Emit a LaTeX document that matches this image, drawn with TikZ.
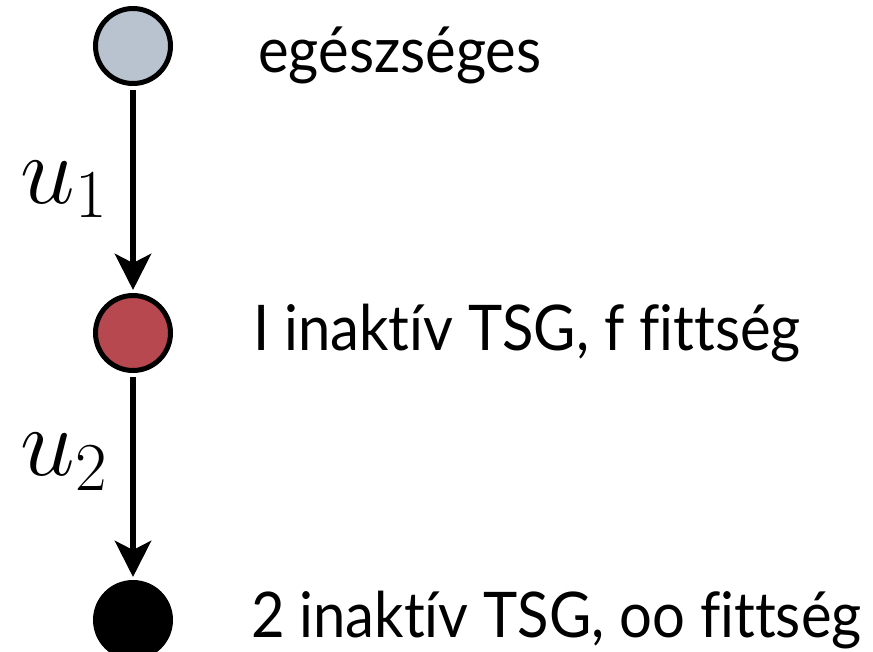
\RequirePackage{fix-cm}
\documentclass[tikz,border=0pt]{standalone}
\usepackage{fontspec}
\setmainfont{Lato}[FakeStretch=0.92, Ligatures=NoCommon]
\usetikzlibrary{arrows.meta, positioning}

\definecolor{healthygray}{RGB}{185,195,207}
\definecolor{inactred}{RGB}{184,72,80}

\begin{document}
\begin{tikzpicture}[
        x=1pt, y=-1pt,
        node distance=207pt,
        state/.style={
            circle,
            draw=black,
            line width=5pt,
            minimum size=75pt,
            inner sep=0pt
        },
        desc/.style={
            anchor=base west,
            inner sep=0pt,
            font=\fontsize{63}{70}\selectfont
        },
        rate/.style={
            font=\fontsize{98}{100}\selectfont
        },
        arrow/.style={line width=6.5pt, -{Stealth[length=36pt, width=36pt, inset=9pt]},
            shorten <=4pt, shorten >=3pt}
    ]
    \useasboundingbox (0,0) rectangle (873,651);

    % States
    \node (healthy) [state, fill=healthygray] at (133,46) {};
    \node (one) [state, fill=inactred, below=of healthy] {};
    \node (two) [state, fill=black, below=of one] {};

    % Descriptions
    \node (healthytxt) [desc] at (258,72) {egészséges};
    \node (onetxt) [desc] at (253,350) {I inaktív TSG, f fittség};
    \node (twotxt) [desc] at (251,637) {2 inaktív TSG, oo fittség};

    % Transitions
    \draw [arrow] (healthy) -- node [rate, left=19pt] {$u_1$} (one);
    \draw [arrow] (one) -- node [rate, left=19pt, pos=0.43] {$u_2$} (two);

\end{tikzpicture}
\end{document}
